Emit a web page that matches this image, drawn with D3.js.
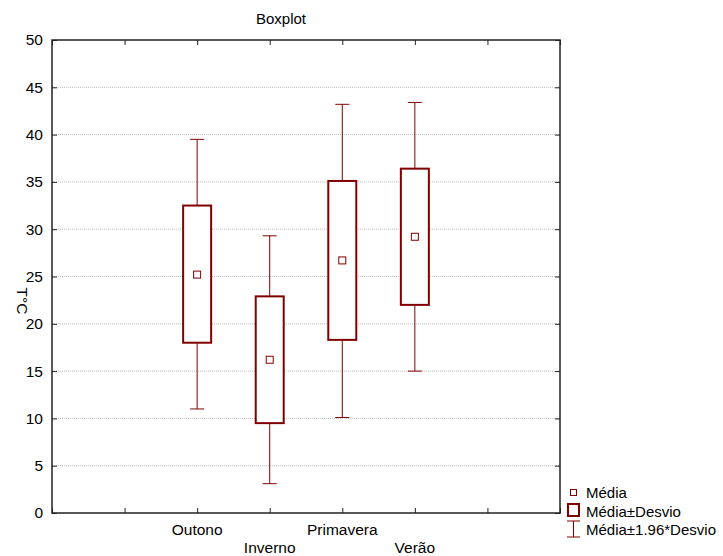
<!DOCTYPE html>
<html>
<head>
<meta charset="utf-8">
<script src="https://cdn.jsdelivr.net/npm/d3@7"></script>
<style>
body { margin: 0; background: #fff; }
text { font-family: "Liberation Sans", Arial, sans-serif; fill: #000; }
</style>
</head>
<body>
<div id="vis"></div>
<script>
var seasons = ["Outono", "Inverno", "Primavera", "Verão"];
var slots = [2, 3, 4, 5];
var means = [25.2, 16.2, 26.7, 29.2];
var boxLow = [18.0, 9.5, 18.3, 22.0];
var boxHigh = [32.5, 22.9, 35.1, 36.4];
var whiskLow = [11.0, 3.1, 10.1, 15.0];
var whiskHigh = [39.5, 29.3, 43.2, 43.4];
var yTicks = [0, 5, 10, 15, 20, 25, 30, 35, 40, 45, 50];
var legendItems = ["Média", "Média±Desvio", "Média±1.96*Desvio"];

var red = "#800000";
var fs = '15.5px';
var W = 723, H = 556;
var m = {left: 52, right: 560, top: 40, bottom: 513};

var svg = d3.select('#vis').append('svg').attr('width', W).attr('height', H);

var x = d3.scaleLinear().domain([0, 7]).range([m.left, m.right]);
var y = d3.scaleLinear().domain([0, 50]).range([m.bottom, m.top]);

// grid
svg.selectAll('line.grid')
  .data(yTicks.filter(function(d) { return d > 0 && d < 50; })).enter().append('line')
  .attr('class', 'grid')
  .attr('x1', m.left).attr('x2', m.right)
  .attr('y1', function(d) { return y(d); }).attr('y2', function(d) { return y(d); })
  .attr('stroke', '#bdbdbd').attr('stroke-width', 1).attr('stroke-dasharray', '1,1');

// axes (ticks point inward)
svg.append('g').attr('transform', 'translate(' + m.left + ',0)')
  .call(d3.axisLeft(y).tickValues(yTicks).tickSize(-5).tickPadding(9))
  .call(function(g) { g.select('.domain').remove(); })
  .selectAll('text').style('font-size', fs);
svg.append('g').attr('transform', 'translate(' + m.right + ',0)')
  .call(d3.axisRight(y).tickValues(yTicks).tickSize(-5).tickFormat(''))
  .call(function(g) { g.select('.domain').remove(); });
svg.append('g').attr('transform', 'translate(0,' + m.bottom + ')')
  .call(d3.axisBottom(x).ticks(7).tickSize(-5).tickFormat(''))
  .call(function(g) { g.select('.domain').remove(); });
svg.append('g').attr('transform', 'translate(0,' + m.top + ')')
  .call(d3.axisTop(x).ticks(7).tickSize(-5).tickFormat(''))
  .call(function(g) { g.select('.domain').remove(); });
svg.selectAll('.tick line').attr('stroke', '#222');

svg.append('rect')
  .attr('x', m.left).attr('y', m.top)
  .attr('width', m.right - m.left).attr('height', m.bottom - m.top)
  .attr('fill', 'none').attr('stroke', '#222').attr('stroke-width', 1.5);

// category labels, staggered
svg.selectAll('text.cat')
  .data(seasons).enter().append('text')
  .attr('class', 'cat')
  .attr('x', function(d, i) { return x(slots[i]); })
  .attr('y', function(d, i) { return i % 2 == 0 ? 535 : 553; })
  .attr('text-anchor', 'middle')
  .style('font-size', fs)
  .text(function(d) { return d; });

// boxes and whiskers
var bw = 28, cap = 14;
var g = svg.append('g');
seasons.forEach(function(s, i) {
  var cx = x(slots[i]);
  g.append('line').attr('x1', cx).attr('x2', cx)
    .attr('y1', y(whiskHigh[i])).attr('y2', y(boxHigh[i])).attr('stroke', red);
  g.append('line').attr('x1', cx).attr('x2', cx)
    .attr('y1', y(boxLow[i])).attr('y2', y(whiskLow[i])).attr('stroke', red);
  g.append('line').attr('x1', cx - cap / 2).attr('x2', cx + cap / 2)
    .attr('y1', y(whiskHigh[i])).attr('y2', y(whiskHigh[i])).attr('stroke', red);
  g.append('line').attr('x1', cx - cap / 2).attr('x2', cx + cap / 2)
    .attr('y1', y(whiskLow[i])).attr('y2', y(whiskLow[i])).attr('stroke', red);
  g.append('rect').attr('x', cx - bw / 2).attr('y', y(boxHigh[i]))
    .attr('width', bw).attr('height', y(boxLow[i]) - y(boxHigh[i]))
    .attr('fill', '#fff').attr('stroke', red).attr('stroke-width', 2);
  g.append('rect').attr('x', cx - 3.5).attr('y', y(means[i]) - 3.5)
    .attr('width', 7).attr('height', 7)
    .attr('fill', '#fff').attr('stroke', red).attr('stroke-width', 1);
});

// title
svg.append('text').attr('x', 281).attr('y', 24).attr('text-anchor', 'middle')
  .style('font-size', '15px').text('Boxplot');

// y label, rotated clockwise
svg.append('text').attr('transform', 'translate(17,301) rotate(90)')
  .attr('text-anchor', 'middle').style('font-size', fs).text('T°C');

// legend
var lg = svg.append('g');
lg.append('rect').attr('x', 570.5).attr('y', 489.5).attr('width', 6).attr('height', 6)
  .attr('fill', '#fff').attr('stroke', red);
lg.append('rect').attr('x', 568).attr('y', 504).attr('width', 11).attr('height', 12)
  .attr('fill', '#fff').attr('stroke', red).attr('stroke-width', 2);
lg.append('line').attr('x1', 573.5).attr('x2', 573.5).attr('y1', 521).attr('y2', 537).attr('stroke', red);
lg.append('line').attr('x1', 567).attr('x2', 580).attr('y1', 521).attr('y2', 521).attr('stroke', red);
lg.append('line').attr('x1', 567).attr('x2', 580).attr('y1', 537).attr('y2', 537).attr('stroke', red);
lg.selectAll('text').data(legendItems).enter().append('text')
  .attr('x', 586).attr('y', function(d, i) { return 498 + i * 18.5; })
  .style('font-size', '15px').text(function(d) { return d; });
</script>
</body>
</html>
